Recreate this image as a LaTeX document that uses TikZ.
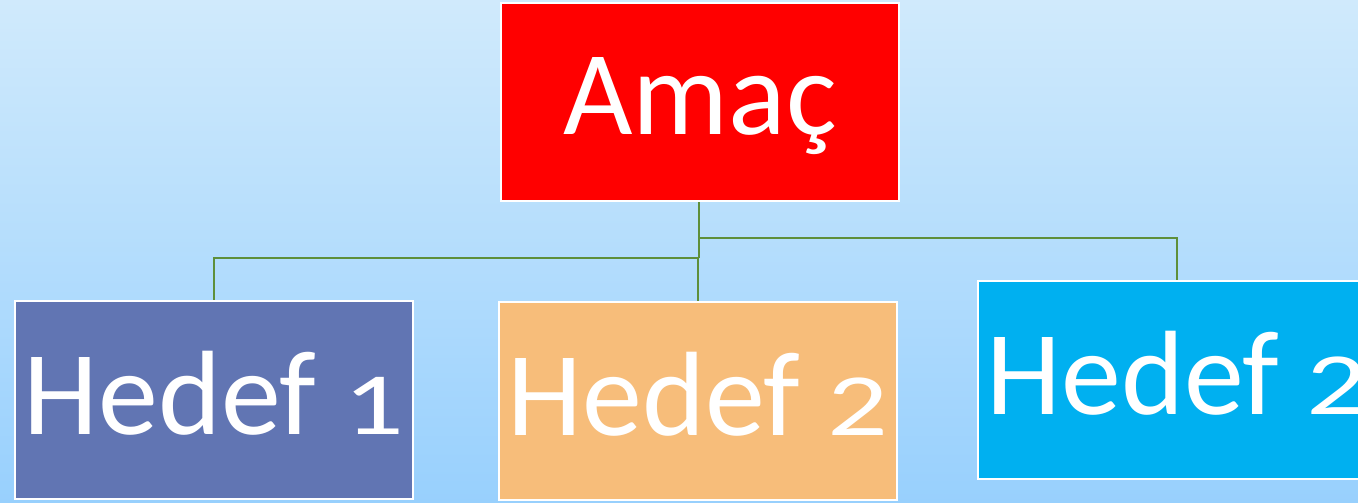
\documentclass[tikz,border=0pt]{standalone}
\usepackage{fontspec}
\setmainfont{Carlito}
\newcommand{\osdigit}[1]{\scalebox{1}[0.74]{#1}}
\definecolor{bgtop}{RGB}{208,234,252}
\definecolor{bgbot}{RGB}{152,208,253}
\definecolor{linegreen}{RGB}{94,143,58}
\definecolor{boxred}{RGB}{255,0,0}
\definecolor{boxblue}{RGB}{97,117,179}
\definecolor{boxorange}{RGB}{247,189,122}
\definecolor{boxcyan}{RGB}{0,176,240}
\tikzset{
  box/.style={draw=white, line width=2pt, minimum width=398pt, minimum height=198pt,
    inner sep=0pt, text=white, font=\fontsize{120}{128}\selectfont, anchor=north west,
    text depth=14pt},
  conn/.style={draw=linegreen, line width=2.6pt}
}
\begin{document}
\begin{tikzpicture}[x=1pt,y=-1pt]
\useasboundingbox (0,0) rectangle (1358,503);
\clip (0,0) rectangle (1358,503);
\shade[top color=bgtop, bottom color=bgbot] (0,0) rectangle (1358,503);
\coordinate (j1) at (699,238);
\coordinate (j2) at (699,258);
\node[box, fill=boxred, text depth=12pt] (amac) at (500,2) {Amaç};
\node[box, fill=boxblue] (h1) at (14,300) {Hedef \osdigit{1}};
\node[box, fill=boxorange] (h2) at (498,301) {Hedef \osdigit{2}};
\node[box, fill=boxcyan] (h3) at (977,280) {Hedef \osdigit{2}};
\draw[conn] (amac.south -| j1) -- (j2);
\draw[conn] (j1) -| (h3.north);
\draw[conn] (j2) -| (h1.north);
\draw[conn] (j2 -| h2.north) -- (h2.north);
\end{tikzpicture}
\end{document}
